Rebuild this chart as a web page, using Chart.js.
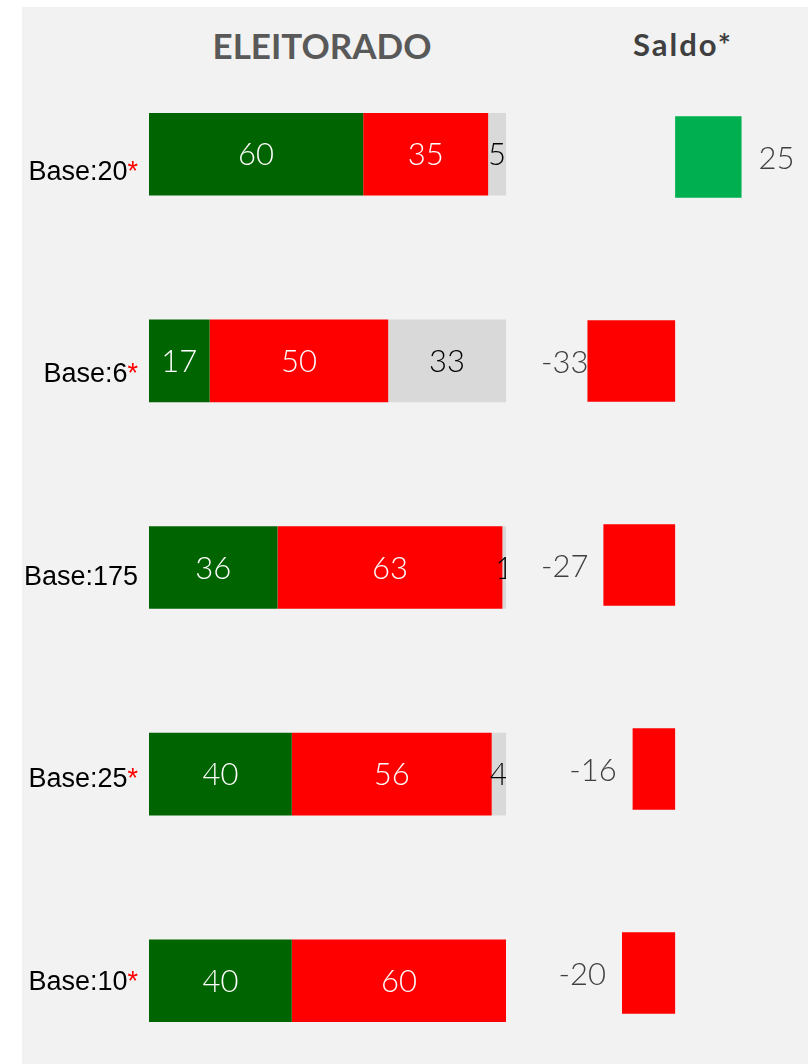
<!DOCTYPE html>
<html>
<head>
<meta charset="utf-8">
<script src="https://cdn.jsdelivr.net/npm/chart.js@4"></script>
<style>
  body { margin: 0; background: #fff; width: 808px; height: 1064px; overflow: hidden; position: relative; }
  #panel { position: absolute; left: 22px; top: 7px; right: 0; bottom: 0; background: #f2f2f2; }
  .title { position: absolute; font-family: "Lato", sans-serif; font-weight: bold; transform: translate(-50%, -50%); white-space: nowrap; }
  #tEleit { left: 322px; top: 45px; font-size: 35px; color: #595959; }
  #tSaldo { left: 683px; top: 44px; font-size: 31px; letter-spacing: 2px; color: #404040; }
  canvas { position: absolute; }
  #stackChart { left: 22px; top: 51px; }
  #saldoChart { left: 529px; top: 55px; }
</style>
</head>
<body>
<div id="panel"></div>
<div class="title" id="tEleit">ELEITORADO</div>
<div class="title" id="tSaldo">Saldo*</div>
<canvas id="stackChart" width="484" height="1033"></canvas>
<canvas id="saldoChart" width="271" height="1020"></canvas>
<script>
// dados
const categories = ['Base:20*', 'Base:6*', 'Base:175', 'Base:25*', 'Base:10*'];
const aprova = [60, 17, 36, 40, 40];
const desaprova = [35, 50, 63, 56, 60];
const nsnr = [5, 33, 1, 4, 0];
const saldo = [25, -33, -27, -16, -20];

const NUM_FONT = '300 31px "Lato", sans-serif';

// rotulos dentro das barras empilhadas
const stackLabels = {
    id: 'stackLabels',
    afterDatasetsDraw(chart) {
        const ctx = chart.ctx;
        ctx.save();
        ctx.font = NUM_FONT;
        ctx.textAlign = 'center';
        ctx.textBaseline = 'middle';
        chart.data.datasets.forEach((ds, di) => {
            chart.getDatasetMeta(di).data.forEach((bar, i) => {
                const v = ds.data[i];
                if (!v) return;
                ctx.fillStyle = ds.labelColor;
                ctx.fillText(v, (bar.x + bar.base) / 2, bar.y + 1);
            });
        });
        ctx.restore();
    }
};

// categorias com asterisco vermelho (ficam um pouco mais juntas que as barras)
const baseLabels = {
    id: 'baseLabels',
    afterDraw(chart) {
        const ctx = chart.ctx;
        const yScale = chart.scales.y;
        const right = chart.chartArea.left - 11;
        ctx.save();
        ctx.font = '27px "Liberation Sans", Arial, sans-serif';
        ctx.textBaseline = 'middle';
        ctx.textAlign = 'left';
        categories.forEach((c, i) => {
            const y = yScale.getPixelForValue(i * 0.98) + 18;
            const star = c.endsWith('*');
            const txt = star ? c.slice(0, -1) : c;
            const wTxt = ctx.measureText(txt).width;
            const wStar = star ? ctx.measureText('*').width : 0;
            const x0 = right - wTxt - wStar;
            ctx.fillStyle = '#000';
            ctx.fillText(txt, x0, y);
            if (star) {
                ctx.fillStyle = '#ff0000';
                ctx.fillText('*', x0 + wTxt, y);
            }
        });
        ctx.restore();
    }
};

// rotulos do saldo
const saldoLabels = {
    id: 'saldoLabels',
    afterDatasetsDraw(chart) {
        const ctx = chart.ctx;
        const minX = chart.chartArea.left + 12;
        ctx.save();
        ctx.font = NUM_FONT;
        ctx.textBaseline = 'middle';
        ctx.textAlign = 'left';
        ctx.fillStyle = '#404040';
        chart.getDatasetMeta(0).data.forEach((bar, i) => {
            const v = saldo[i];
            const w = ctx.measureText(v).width;
            const x = v >= 0 ? bar.x + 17 : Math.max(bar.x - 16 - w, minX);
            ctx.fillText(v, x, bar.y + 2);
        });
        ctx.restore();
    }
};

function createStackChart() {
    const ctx = document.getElementById('stackChart').getContext('2d');
    return new Chart(ctx, {
        type: 'bar',
        data: {
            labels: categories,
            datasets: [
                { label: 'Aprova', data: aprova, backgroundColor: '#006400', labelColor: '#ffffff' },
                { label: 'Desaprova', data: desaprova, backgroundColor: '#ff0000', labelColor: '#ffffff' },
                { label: 'NS/NR', data: nsnr, backgroundColor: '#d9d9d9', labelColor: '#000000' }
            ]
        },
        options: {
            indexAxis: 'y',
            responsive: false,
            animation: false,
            events: [],
            layout: { padding: { left: 127, right: 0, top: 0, bottom: 0 } },
            datasets: { bar: { barPercentage: 0.4, categoryPercentage: 1, borderWidth: 0 } },
            scales: {
                x: { stacked: true, min: 0, max: 100, display: false },
                y: { stacked: true, display: false }
            },
            plugins: { legend: { display: false }, tooltip: { enabled: false } }
        },
        plugins: [stackLabels, baseLabels]
    });
}

function createSaldoChart() {
    const ctx = document.getElementById('saldoChart').getContext('2d');
    return new Chart(ctx, {
        type: 'bar',
        data: {
            labels: categories,
            datasets: [{
                label: 'Saldo',
                data: saldo,
                backgroundColor: saldo.map(v => v >= 0 ? '#00b050' : '#ff0000'),
                barPercentage: 0.4,
                categoryPercentage: 1,
                borderWidth: 0
            }]
        },
        options: {
            indexAxis: 'y',
            responsive: false,
            animation: false,
            events: [],
            layout: { padding: 0 },
            scales: {
                x: { min: -55, max: 47, display: false },
                y: { display: false }
            },
            plugins: { legend: { display: false }, tooltip: { enabled: false } }
        },
        plugins: [saldoLabels]
    });
}

createStackChart();
createSaldoChart();
</script>
</body>
</html>
